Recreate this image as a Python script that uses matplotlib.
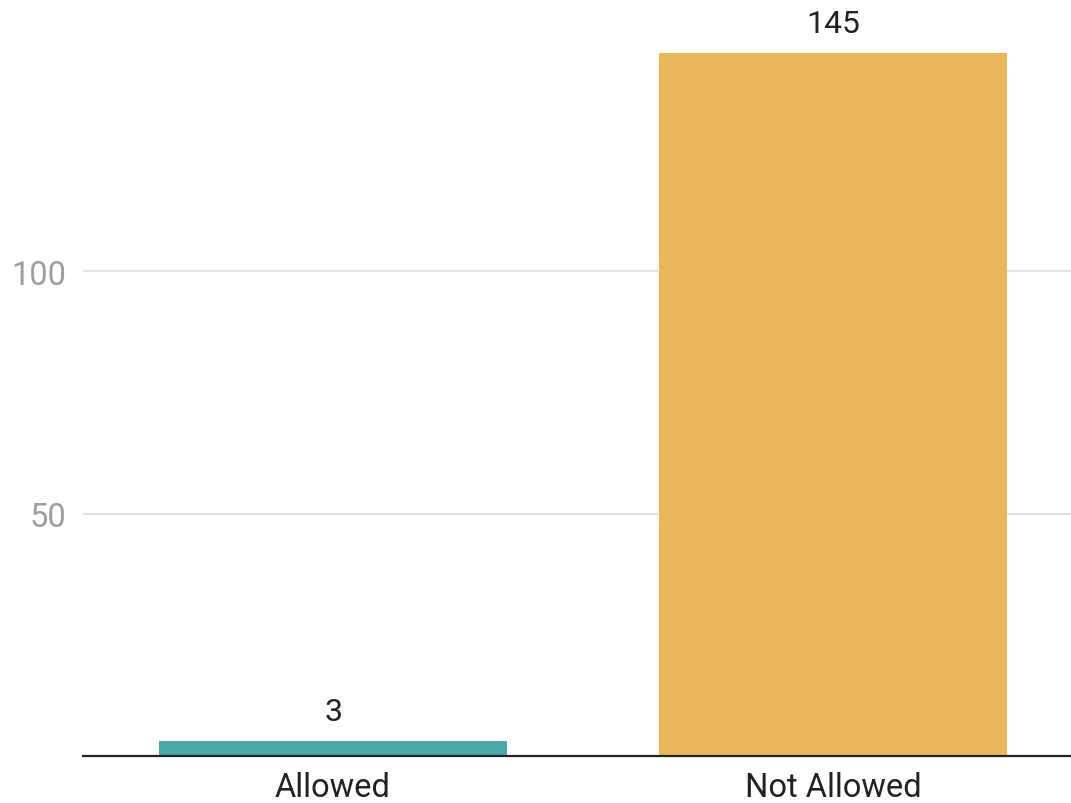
import matplotlib.pyplot as plt

plt.rcParams['font.family'] = ['Roboto', 'DejaVu Sans']

categories = ["Allowed", "Not Allowed"]
counts = [3, 145]
colors = ["#4BA8A9", "#E8B75A"]

fig = plt.figure(figsize=(10.71, 8.04), dpi=100)
ax = fig.add_axes([83 / 1071, 47 / 804, 1 - 83 / 1071, 1 - 47 / 804])

x = range(len(categories))
bars = ax.bar(x, counts, width=0.696, color=colors, zorder=2)

for xi, v in zip(x, counts):
    ax.annotate(str(v), (xi, v), xytext=(0, 11), textcoords="offset points",
                ha="center", va="bottom", fontsize=23, color="#222222")

ax.set_xlim(-0.5, 1.476)
ax.set_ylim(0, 156.2)
ax.set_yticks([50, 100])
ax.set_xticks(list(x))
ax.set_xticklabels(categories, fontsize=23.5, color="#222222")
# keep the labels just inside the bottom edge
ax.tick_params(axis="x", length=0, pad=10.5)
ax.tick_params(axis="y", length=0, pad=12, labelsize=23.5, labelcolor="#9E9E9E")
ax.grid(axis="y", color="#E2E2E2", linewidth=1.6, zorder=0)

for s in ["top", "right", "left"]:
    ax.spines[s].set_visible(False)
ax.spines["bottom"].set_color("#222222")
ax.spines["bottom"].set_linewidth(1.6)
ax.spines["bottom"].set_zorder(3)

fig.savefig("out.png", dpi=100)
